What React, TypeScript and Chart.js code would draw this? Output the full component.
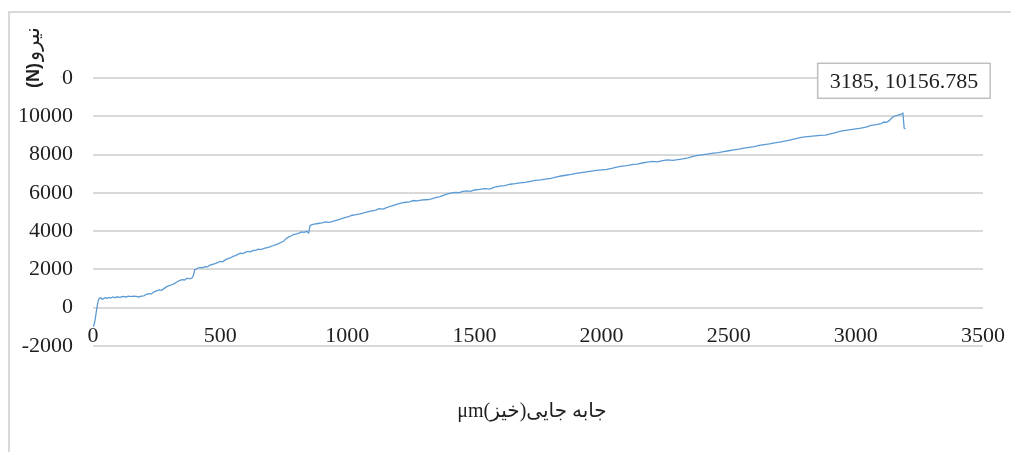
import { useEffect, useRef } from "react";
import { Chart, registerables } from "chart.js";

Chart.register(...registerables);

const displacement = [
  0, 4, 8, 12, 16, 20, 24, 30, 36, 42, 48, 55, 62, 70, 78, 86, 94, 102, 110, 120,
  130, 140, 150, 160, 170, 180, 190, 200, 210, 220, 230, 240, 250, 260, 270, 280, 290, 300, 310, 320,
  330, 340, 350, 360, 370, 380, 390, 395, 400, 410, 420, 430, 440, 450, 460, 470, 480, 490, 500, 510,
  520, 530, 540, 550, 560, 570, 580, 590, 600, 610, 620, 630, 640, 650, 660, 670, 680, 690, 700, 710,
  720, 730, 740, 750, 760, 770, 780, 790, 800, 810, 820, 830, 840, 848, 854, 862, 870, 885, 900, 915,
  930, 945, 960, 975, 990, 1005, 1020, 1035, 1050, 1065, 1080, 1095, 1110, 1125, 1140, 1155, 1170, 1185, 1200, 1215,
  1230, 1245, 1260, 1275, 1290, 1305, 1320, 1335, 1350, 1365, 1380, 1395, 1410, 1425, 1440, 1455, 1470, 1485, 1500, 1520,
  1540, 1560, 1580, 1600, 1620, 1640, 1660, 1680, 1700, 1720, 1740, 1760, 1780, 1800, 1820, 1840, 1860, 1880, 1900, 1920,
  1940, 1960, 1980, 2000, 2020, 2040, 2060, 2080, 2100, 2120, 2140, 2160, 2180, 2200, 2220, 2240, 2260, 2280, 2300, 2320,
  2340, 2360, 2380, 2400, 2420, 2440, 2460, 2480, 2500, 2520, 2540, 2560, 2580, 2600, 2620, 2640, 2660, 2680, 2700, 2720,
  2740, 2760, 2780, 2800, 2820, 2840, 2860, 2880, 2900, 2920, 2940, 2960, 2980, 3000, 3020, 3040, 3060, 3080, 3100, 3110,
  3120, 3130, 3140, 3150, 3160, 3170, 3178, 3185, 3190, 3193,
];

const force = [
  -1000, -900, -650, -300, 50, 330, 480, 520, 440, 470, 530, 480, 540, 500, 560, 520, 570, 540, 560, 590,
  560, 600, 580, 610, 590, 560, 600, 620, 700, 740, 720, 830, 880, 930, 910, 1010, 1100, 1150, 1200, 1260,
  1340, 1420, 1470, 1450, 1540, 1510, 1560, 1700, 1980, 2050, 2100, 2080, 2150, 2130, 2220, 2260, 2300, 2350, 2420, 2400,
  2500, 2560, 2600, 2680, 2720, 2790, 2850, 2830, 2900, 2940, 2920, 2990, 3000, 3060, 3040, 3090, 3120, 3150, 3200, 3250,
  3300, 3350, 3420, 3470, 3620, 3700, 3760, 3830, 3860, 3900, 3960, 3940, 3990, 3900, 4300, 4340, 4370, 4400, 4430, 4480,
  4460, 4520, 4580, 4640, 4700, 4760, 4830, 4860, 4900, 4950, 5010, 5060, 5090, 5180, 5150, 5230, 5300, 5360, 5420, 5480,
  5510, 5530, 5600, 5580, 5620, 5640, 5650, 5700, 5760, 5800, 5880, 5950, 6000, 6030, 6010, 6080, 6100, 6080, 6150, 6180,
  6220, 6200, 6300, 6350, 6380, 6450, 6480, 6520, 6550, 6600, 6650, 6680, 6720, 6760, 6820, 6880, 6920, 6960, 7020, 7060,
  7100, 7140, 7170, 7200, 7230, 7280, 7350, 7400, 7420, 7480, 7500, 7560, 7600, 7640, 7620, 7680, 7720, 7700, 7740, 7780,
  7830, 7900, 7960, 8000, 8040, 8080, 8100, 8150, 8200, 8240, 8280, 8340, 8380, 8420, 8480, 8520, 8560, 8610, 8650, 8700,
  8760, 8820, 8880, 8920, 8950, 8980, 9000, 9020, 9080, 9150, 9220, 9260, 9300, 9340, 9380, 9430, 9520, 9560, 9620, 9700,
  9680, 9760, 9900, 10000, 10030, 10080, 10110, 10156.785, 9380, 9360,
];

const xTicks = [0, 500, 1000, 1500, 2000, 2500, 3000, 3500];
const yTicks = [-2000, 0, 2000, 4000, 6000, 8000, 10000, 12000];
const peakPoint = { x: 3185, y: 10156.785 };
const peakLabel = "3185, 10156.785";
const xTitle = "جابه جایی(خیز)μm";
const yTitleLatin = "(N)";
const yTitleArabic = "نیرو";

const SERIF = '"Liberation Serif", "Times New Roman", "DejaVu Sans", serif';

const decorPlugin = {
  id: "decor",
  beforeDraw(chart: any) {
    const { ctx, width, height } = chart;
    ctx.save();
    ctx.fillStyle = "#ffffff";
    ctx.fillRect(0, 0, width, height);
    ctx.strokeStyle = "#d9d9d9";
    ctx.lineWidth = 2;
    ctx.strokeRect(9, 12, width + 10, height + 10);
    ctx.restore();
  },
  afterDraw(chart: any) {
    const { ctx } = chart;
    const xs = chart.scales.x;
    const ys = chart.scales.y;
    // data label
    const px = xs.getPixelForValue(peakPoint.x);
    const py = ys.getPixelForValue(peakPoint.y);
    ctx.save();
    ctx.font = `22px ${SERIF}`;
    const tw = ctx.measureText(peakLabel).width;
    const bw = tw + 24;
    const bh = 35;
    const bx = px + 1 - bw / 2;
    const by = py - 15 - bh;
    ctx.fillStyle = "#ffffff";
    ctx.fillRect(bx, by, bw, bh);
    ctx.strokeStyle = "#bfbfbf";
    ctx.lineWidth = 1.5;
    ctx.strokeRect(bx, by, bw, bh);
    ctx.fillStyle = "#1f1f1f";
    ctx.textAlign = "center";
    ctx.textBaseline = "middle";
    ctx.fillText(peakLabel, bx + bw / 2, by + bh / 2 + 1);
    ctx.restore();

    // x title
    ctx.save();
    ctx.direction = "rtl";
    ctx.font = `20px ${SERIF}`;
    ctx.fillStyle = "#1f1f1f";
    ctx.textAlign = "center";
    ctx.textBaseline = "middle";
    ctx.fillText(xTitle, 532, 412);
    ctx.restore();

    // y title (its box overlaps the top tick label)
    ctx.save();
    ctx.fillStyle = "#ffffff";
    ctx.fillRect(11, 14, 50, 84);
    ctx.translate(39, 88);
    ctx.rotate(-Math.PI / 2);
    ctx.fillStyle = "#1f1f1f";
    ctx.textAlign = "left";
    ctx.textBaseline = "alphabetic";
    ctx.font = `bold 18px "Liberation Sans", Arial, sans-serif`;
    ctx.fillText(yTitleLatin, 0, 0);
    const w1 = ctx.measureText(yTitleLatin).width;
    ctx.font = `21px "DejaVu Sans", serif`;
    ctx.fillText(yTitleArabic, w1 + 2, 0);
    ctx.restore();
  },
};

export default function App() {
  const canvasRef = useRef<HTMLCanvasElement | null>(null);

  useEffect(() => {
    if (!canvasRef.current) return;
    const points = displacement.map((x, i) => ({ x, y: force[i] }));
    const chart = new Chart(canvasRef.current, {
      type: "line",
      data: {
        datasets: [
          {
            data: points,
            borderColor: "#5b9bd5",
            borderWidth: 1.3,
            pointRadius: 0,
            tension: 0,
            fill: false,
          },
        ],
      },
      options: {
        animation: false,
        responsive: false,
        layout: { padding: { left: 0, top: 78, right: 28, bottom: 106 } },
        plugins: {
          legend: { display: false },
          tooltip: { enabled: false },
          title: { display: false },
        },
        scales: {
          x: {
            type: "linear",
            position: { y: 0 } as any,
            min: 0,
            max: 3500,
            afterBuildTicks: (scale: any) => {
              scale.ticks = xTicks.map((v) => ({ value: v }));
            },
            afterFit: (scale: any) => {
              scale.paddingLeft = 0;
              scale.paddingRight = 0;
            },
            grid: { display: false, drawTicks: false },
            border: { display: false },
            ticks: {
              maxRotation: 0,
              autoSkip: false,
              padding: 15,
              color: "#1f1f1f",
              font: { family: SERIF, size: 22 },
              callback: (v: any) => String(v),
            },
          },
          y: {
            type: "linear",
            min: -2000,
            max: 12000,
            afterBuildTicks: (scale: any) => {
              scale.ticks = yTicks.map((v) => ({ value: v }));
            },
            afterFit: (scale: any) => {
              scale.width = 93;
              scale.paddingTop = 0;
              scale.paddingBottom = 0;
            },
            grid: { color: "#d9d9d9", lineWidth: 2, drawTicks: false },
            border: { display: false },
            ticks: {
              padding: 20,
              color: "#1f1f1f",
              font: { family: SERIF, size: 22 },
              callback: (v: any) => String(v),
            },
          },
        },
      },
      plugins: [decorPlugin],
    });
    return () => chart.destroy();
  }, []);

  return (
    <div style={{ position: "fixed", left: 0, top: 0, width: 1011, height: 452 }}>
      <canvas ref={canvasRef} width={1011} height={452} style={{ display: "block" }} />
    </div>
  );
}
